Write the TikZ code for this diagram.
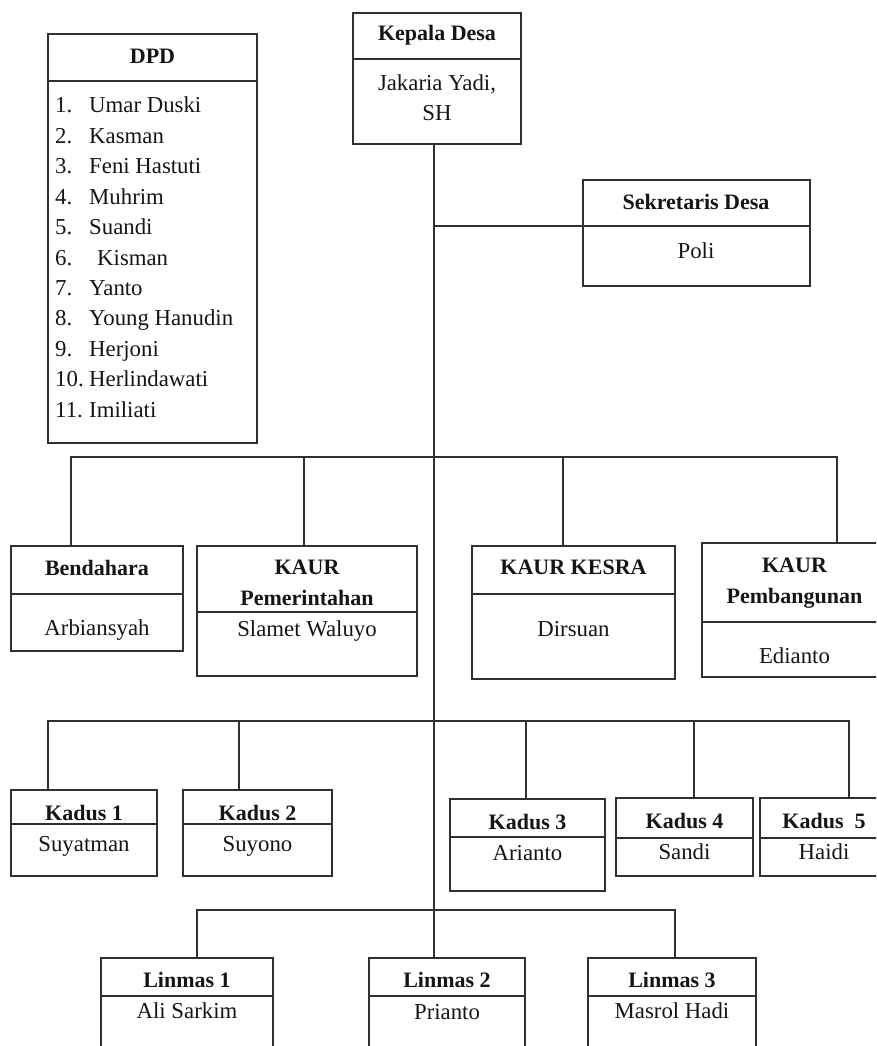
\documentclass[tikz,border=0pt]{standalone}
\usepackage{fontspec}
\setmainfont{Liberation Serif}
\definecolor{linec}{HTML}{303030}
\definecolor{textc}{HTML}{151515}
\newcommand\OrgUnitBox[6]{%
  \node[unitbox, minimum width={(#4)-(#2)}, minimum height={(#5)-(#3)}] (#1) at (#2,#3) {};
  \draw[divline] (#1.west |- 0,#6) -- (#1.east |- 0,#6);}
\begin{document}
\begin{tikzpicture}[x=1pt,y=-1pt,
  conn/.style={draw=linec, line width=1.4pt},
  unitbox/.style={draw=linec, line width=1.8pt, rectangle, inner sep=0pt, outer sep=0pt, anchor=north west},
  divline/.style={draw=linec, line width=1.8pt},
  txt/.style={inner sep=0pt, anchor=base, text=textc, font=\fontsize{22.8pt}{30pt}\selectfont},
  hd/.style={txt, font=\fontsize{22pt}{30pt}\selectfont\bfseries}]
\useasboundingbox (0,0) rectangle (876,1046);
\clip (0,0) rectangle (876,1046);

% ---------- boxes ----------
\OrgUnitBox{dpd}{48}{34}{257}{443}{81}
\OrgUnitBox{kep}{353}{13}{521}{144}{59}
\OrgUnitBox{sek}{583}{180}{810}{286}{226}
\OrgUnitBox{bend}{11}{546}{183}{651}{594}
\OrgUnitBox{pem}{197}{546}{417}{676}{612}
\OrgUnitBox{kes}{472}{546}{675}{679}{594}
\OrgUnitBox{pemb}{702}{543}{887}{677}{622}
\OrgUnitBox{kd1}{11}{790}{157}{876}{824}
\OrgUnitBox{kd2}{183}{790}{332}{876}{824}
\OrgUnitBox{kd3}{450}{799}{605}{891}{837}
\OrgUnitBox{kd4}{616}{798}{753}{876}{838}
\OrgUnitBox{kd5}{760}{798}{888}{876}{838}
\OrgUnitBox{lin1}{101}{958}{273}{1060}{996}
\OrgUnitBox{lin2}{369}{958}{525}{1060}{996}
\OrgUnitBox{lin3}{588}{958}{756}{1060}{996}

% ---------- texts ----------
\node[hd] (dpd-h) at (152.5,64) {DPD};
\foreach \num/\nm/\dx [count=\i from 0] in {1./Umar Duski/0, 2./Kasman/0, 3./Feni Hastuti/0, 4./Muhrim/0, 5./Suandi/0, 6./Kisman/8, 7./Yanto/0, 8./Young Hanudin/0, 9./Herjoni/0, 10./Herlindawati/0, 11./Imiliati/0}{
  \node[txt, anchor=base west] (dpdn\i) at (55,{113+30.4*\i}) {\num};
  \node[txt, anchor=base west] (dpdt\i) at ({89+\dx},{113+30.4*\i}) {\nm};
}
\node[hd] (kep-h) at (437,41) {Kepala Desa};
\node[txt] (kep-b1) at (437,91) {Jakaria Yadi,};
\node[txt] (kep-b2) at (437,121) {SH};
\node[hd] (sek-h) at (696,209) {Sekretaris Desa};
\node[txt] (sek-b) at (696,258) {Poli};

\node[hd] (bend-h) at (97,575) {Bendahara};
\node[txt] (bend-b) at (97,635) {Arbiansyah};
\node[hd] (pem-h1) at (307,574) {KAUR};
\node[hd] (pem-h2) at (307,605) {Pemerintahan};
\node[txt] (pem-b) at (307,636) {Slamet Waluyo};
\node[hd] (kes-h) at (573.5,574) {KAUR KESRA};
\node[txt] (kes-b) at (573.5,636) {Dirsuan};
\node[hd] (pemb-h1) at (794.5,572) {KAUR};
\node[hd] (pemb-h2) at (794.5,603) {Pembangunan};
\node[txt] (pemb-b) at (794.5,663) {Edianto};

\node[hd] (kd1-h) at (84,820) {Kadus 1};
\node[txt] (kd1-b) at (84,851) {Suyatman};
\node[hd] (kd2-h) at (257.5,820) {Kadus 2};
\node[txt] (kd2-b) at (257.5,851) {Suyono};
\node[hd] (kd3-h) at (527.5,829) {Kadus 3};
\node[txt] (kd3-b) at (527.5,860) {Arianto};
\node[hd] (kd4-h) at (684.5,828) {Kadus 4};
\node[txt] (kd4-b) at (684.5,859) {Sandi};
\node[hd] (kd5-h) at (824,828) {Kadus\ \ 5};
\node[txt] (kd5-b) at (824,859) {Haidi};

\node[hd] (lin1-h) at (187,987) {Linmas 1};
\node[txt] (lin1-b) at (187,1018) {Ali Sarkim};
\node[hd] (lin2-h) at (447,987) {Linmas 2};
\node[txt] (lin2-b) at (447,1019) {Prianto};
\node[hd] (lin3-h) at (672,987) {Linmas 3};
\node[txt] (lin3-b) at (672,1018) {Masrol Hadi};

% ---------- connectors ----------
\coordinate (tr) at (434,0);
\coordinate (sekj) at (434,226);
\draw[conn] (kep.south -| tr) -- (lin2.north -| tr);
\draw[conn] (sekj) -- (sek.west |- sekj);

\coordinate (b1a) at (71,457);
\coordinate (b1b) at (304,457);
\coordinate (b1c) at (563,457);
\coordinate (b1d) at (837,457);
\draw[conn] (bend.north -| b1a) -- (b1a) -- (b1d) -- (pemb.north -| b1d);
\draw[conn] (b1b) -- (pem.north -| b1b);
\draw[conn] (b1c) -- (kes.north -| b1c);

\coordinate (b2a) at (48,721);
\coordinate (b2b) at (239,721);
\coordinate (b2c) at (526,721);
\coordinate (b2d) at (694,721);
\coordinate (b2e) at (849,721);
\draw[conn] (kd1.north -| b2a) -- (b2a) -- (b2e) -- (kd5.north -| b2e);
\draw[conn] (b2b) -- (kd2.north -| b2b);
\draw[conn] (b2c) -- (kd3.north -| b2c);
\draw[conn] (b2d) -- (kd4.north -| b2d);

\coordinate (b3a) at (197,910);
\coordinate (b3c) at (675,910);
\draw[conn] (lin1.north -| b3a) -- (b3a) -- (b3c) -- (lin3.north -| b3c);
\end{tikzpicture}
\end{document}
